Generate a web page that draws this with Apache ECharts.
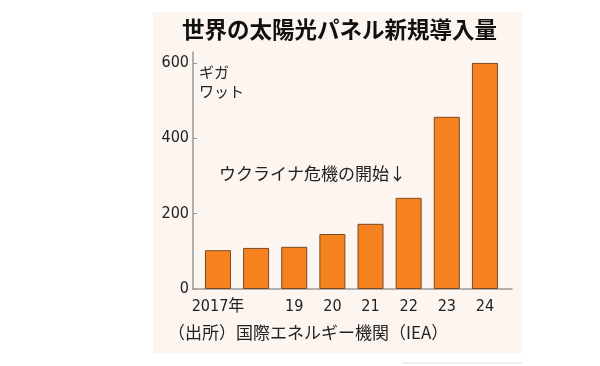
<!DOCTYPE html>
<html><head><meta charset="utf-8">
<script src="https://cdn.jsdelivr.net/npm/echarts@6/dist/echarts.min.js"></script>
<style>html,body{margin:0;padding:0;background:#fff}#c{width:600px;height:366px}</style>
</head><body><div id="c"></div>
<script>
const years = ['2017年', '', '19', '20', '21', '22', '23', '24'];
const installs = [103, 109, 112, 146, 173, 242, 457, 600];
const yTicks = [0, 200, 400, 600];
const titleText = '世界の太陽光パネル新規導入量';
const unitText = 'ギガ\nワット';
const noteText = 'ウクライナ危機の開始↓';
const sourceText = '（出所）国際エネルギー機関（IEA）';

const numFont = "'DejaVu Sans Condensed', 'Noto Sans CJK JP', sans-serif";
const jpFont = "'Noto Sans CJK JP', sans-serif";

const chart = echarts.init(document.getElementById('c'), null, {renderer: 'canvas'});
chart.setOption({
  backgroundColor: '#ffffff',
  animation: false,
  title: {
    text: titleText, left: 177, top: 13,
    textStyle: {fontFamily: jpFont, fontWeight: 'bold', fontSize: 22.5, color: '#111'}
  },
  graphic: [
    {type: 'rect', z: -10, shape: {x: 153, y: 12, width: 369, height: 341}, style: {fill: '#fdf5ef'}},
    {type: 'line', z: -10, shape: {x1: 402, y1: 363, x2: 522, y2: 363}, style: {stroke: '#dddddd', lineWidth: 1}},
    {type: 'text', left: 199, top: 63, style: {text: unitText, font: "15px 'Noto Sans CJK JP'", fill: '#222', lineHeight: 19}},
    {type: 'text', left: 219, top: 165, style: {text: noteText, font: "17px 'Noto Sans CJK JP'", fill: '#222'}},
    {type: 'text', left: 168, top: 324, style: {text: sourceText, font: "17px 'Noto Sans CJK JP'", fill: '#222'}}
  ],
  grid: {left: 193, right: 88, top: 52, bottom: 77},
  xAxis: {
    type: 'value', min: -0.655, max: 7.71,
    splitLine: {show: false},
    axisLine: {show: true, onZero: false, lineStyle: {color: '#9a9a9a', width: 1.5}},
    axisTick: {show: false},
    axisLabel: {
      customValues: [0, 1, 2, 3, 4, 5, 6, 7],
      formatter: v => years[Math.round(v)],
      fontFamily: numFont, fontSize: 16, color: '#222', margin: 10
    }
  },
  yAxis: {
    type: 'value', min: 0, max: 629,
    splitLine: {show: false},
    axisLine: {show: true, onZero: false, lineStyle: {color: '#9a9a9a', width: 1.5}},
    axisTick: {show: true, inside: true, length: 4, customValues: yTicks, lineStyle: {color: '#9a9a9a'}},
    axisLabel: {customValues: yTicks, fontFamily: numFont, fontSize: 16, color: '#222', margin: 4}
  },
  series: [{
    type: 'bar', barWidth: 26,
    data: installs.map((v, i) => [i, v]),
    itemStyle: {color: '#f5821f', borderColor: '#7a4a24', borderWidth: 1}
  }]
});
</script></body></html>
